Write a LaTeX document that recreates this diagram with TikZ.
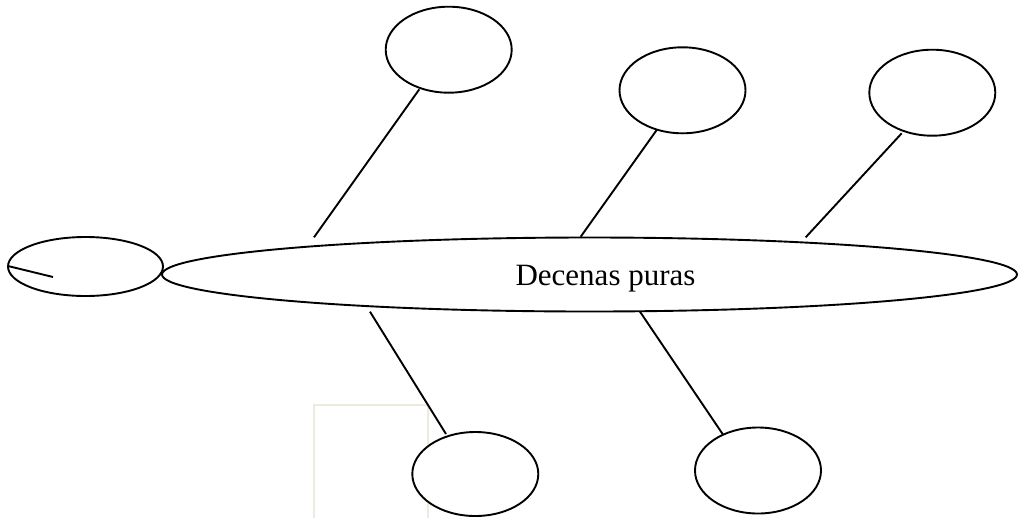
\documentclass[tikz,border=0pt]{standalone}
\usepackage{fontspec}
\setmainfont{Liberation Serif}
\usetikzlibrary{shapes.geometric}
\begin{document}
\begin{tikzpicture}[x=1pt,y=-1pt,
  oval/.style={draw=black,line width=1.9pt,fill=white},
  conn/.style={draw=black,line width=1.9pt}]
\useasboundingbox (0,0) rectangle (1019,517);
% faint background frame
\draw[draw={rgb,255:red,238;green,234;blue,222},line width=1.5pt] (314,520) -- (314,405) -- (428,405) -- (428,520);
% ellipses
\path[oval] (85.5,266.5) ellipse [x radius=77.5,y radius=29.5];
\path[oval] (589.5,274.5) ellipse [x radius=427.5,y radius=37];
\path[oval] (448.7,49.7) ellipse [x radius=63,y radius=43];
\path[oval] (682.5,90.3) ellipse [x radius=63,y radius=43];
\path[oval] (932.3,92.7) ellipse [x radius=63,y radius=43];
\path[oval] (475.3,474) ellipse [x radius=63,y radius=42];
\path[oval] (758,470.5) ellipse [x radius=63,y radius=43];
% named points
\node[anchor=base,inner sep=0pt,font=\fontsize{31}{36}\selectfont] (main) at (605.5,285) {Decenas puras};
\coordinate (s1) at (8,266);
\coordinate (s2) at (53,277);
\coordinate (e1a) at (419.3,89.3);
\coordinate (e1b) at (314,237.3);
\coordinate (e2a) at (656.7,130);
\coordinate (e2b) at (580.7,236.7);
\coordinate (e3a) at (901.7,133.3);
\coordinate (e3b) at (805.7,237.3);
\coordinate (b1a) at (370,311.7);
\coordinate (b1b) at (446,434);
\coordinate (b2a) at (640,311.7);
\coordinate (b2b) at (723.3,435);
% connectors
\draw[conn] (s1) -- (s2);
\draw[conn] (e1a) -- (e1b);
\draw[conn] (e2a) -- (e2b);
\draw[conn] (e3a) -- (e3b);
\draw[conn] (b1a) -- (b1b);
\draw[conn] (b2a) -- (b2b);
\end{tikzpicture}
\end{document}
